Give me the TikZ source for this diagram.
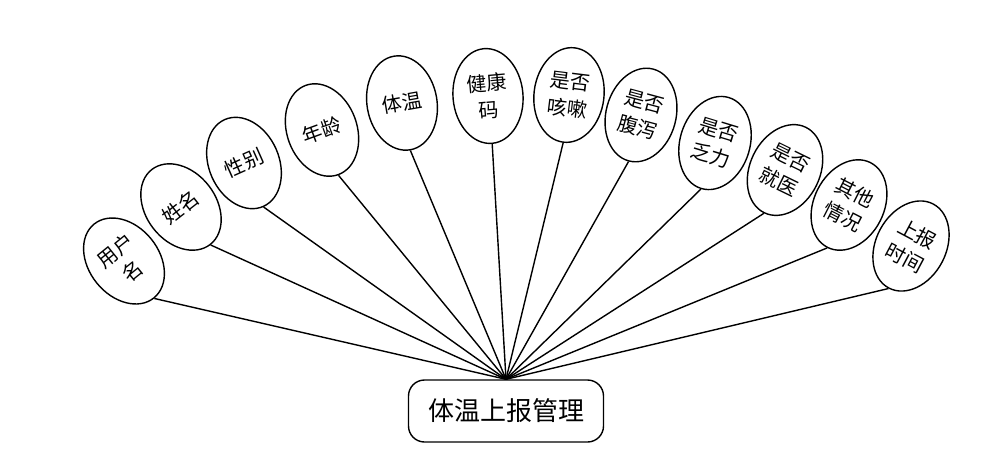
\documentclass[tikz,border=0pt]{standalone}
\usepackage{fontspec}
\setmainfont{Noto Sans CJK SC}
\usetikzlibrary{shapes.geometric}
\begin{document}
\begin{tikzpicture}[x=1pt,y=-1pt,
  attr/.style={draw,ellipse,line width=1.4pt,minimum width=70pt,minimum height=95pt,inner sep=0pt,align=center,font=\fontsize{20}{27}\selectfont},
  link/.style={line width=1.4pt}]
\useasboundingbox (0,0) rectangle (994,453);
\node [draw,rounded corners=16pt,line width=1.4pt,minimum width=195pt,minimum height=62pt,font=\fontsize{26}{30}\selectfont] (mgmt) at (506,411) {体温上报管理};
\node [attr,rotate=39] (yhm) at (124,261) {用户\\名};
\node [attr,rotate=38] (xm) at (181,207) {姓名};
\node [attr,rotate=24] (xb) at (244,163) {性别};
\node [attr,rotate=20] (nl) at (322,130) {年龄};
\node [attr,rotate=10] (tw) at (402,103) {体温};
\node [attr,rotate=5] (jkm) at (488,96) {健康\\码};
\node [attr,rotate=-7] (ks) at (569,95) {是否\\咳嗽};
\node [attr,rotate=-15] (fx) at (641,115) {是否\\腹泻};
\node [attr,rotate=-17] (fl) at (715,143) {是否\\乏力};
\node [attr,rotate=-26] (jy) at (785,170) {是否\\就医};
\node [attr,rotate=-27] (qt) at (849,205) {其他\\情况};
\node [attr,rotate=-28] (sbsj) at (911,246) {上报\\时间};
\draw [link] (yhm.south) -- (mgmt.north);
\draw [link] (xm.south) -- (mgmt.north);
\draw [link] (xb.south) -- (mgmt.north);
\draw [link] (nl.south) -- (mgmt.north);
\draw [link] (tw.south) -- (mgmt.north);
\draw [link] (jkm.south) -- (mgmt.north);
\draw [link] (ks.south) -- (mgmt.north);
\draw [link] (fx.south) -- (mgmt.north);
\draw [link] (fl.south) -- (mgmt.north);
\draw [link] (jy.south) -- (mgmt.north);
\draw [link] (qt.south) -- (mgmt.north);
\draw [link] (sbsj.south) -- (mgmt.north);
\end{tikzpicture}
\end{document}
